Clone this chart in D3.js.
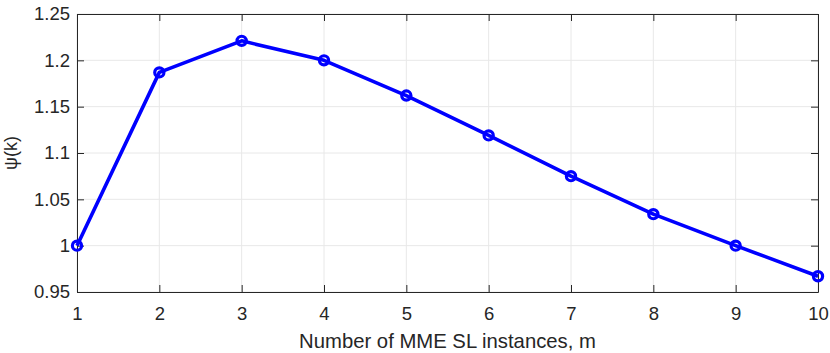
<!DOCTYPE html>
<html>
<head>
<meta charset="utf-8">
<script src="https://cdn.jsdelivr.net/npm/d3@7"></script>
<style>
  body { margin: 0; background: #fff; }
  text { font-family: "Liberation Sans", Arial, sans-serif; fill: #262626; }
</style>
</head>
<body>
<div id="chart"></div>
<script>
// data
const instances = [1, 2, 3, 4, 5, 6, 7, 8, 9, 10];
const psiValues = [1.0, 1.187, 1.221, 1.2, 1.162, 1.119, 1.075, 1.034, 1.0, 0.967];
const yTicks = [0.95, 1, 1.05, 1.1, 1.15, 1.2, 1.25];
const yTickLabels = ['0.95', '1', '1.05', '1.1', '1.15', '1.2', '1.25'];

const width = 830, height = 353;
const margin = {top: 14, right: 12, bottom: 61, left: 77};

const svg = d3.select('#chart').append('svg')
  .attr('width', width)
  .attr('height', height);

const x = d3.scaleLinear()
  .domain([1, 10])
  .range([margin.left, width - margin.right]);
const y = d3.scaleLinear()
  .domain([0.95, 1.25])
  .range([height - margin.bottom, margin.top]);

const axisColor = '#262626';
const tickLen = 7;

// grid lines
const grid = svg.append('g');
grid.selectAll('.vgrid').data(instances).enter().append('line')
  .attr('x1', d => x(d)).attr('x2', d => x(d))
  .attr('y1', y(0.95)).attr('y2', y(1.25))
  .attr('stroke', '#e8e8e8').attr('stroke-width', 1);
grid.selectAll('.hgrid').data(yTicks).enter().append('line')
  .attr('x1', x(1)).attr('x2', x(10))
  .attr('y1', d => y(d)).attr('y2', d => y(d))
  .attr('stroke', '#e8e8e8').attr('stroke-width', 1);

// axes (ticks inward, box on all sides)
const xAxis = g => g
  .attr('transform', `translate(0,${y(0.95)})`)
  .call(d3.axisBottom(x).tickValues(instances).tickFormat(d3.format('d'))
    .tickSizeInner(-tickLen).tickSizeOuter(0).tickPadding(15));
const xAxisTop = g => g
  .attr('transform', `translate(0,${y(1.25)})`)
  .call(d3.axisTop(x).tickValues(instances).tickFormat('')
    .tickSizeInner(-tickLen).tickSizeOuter(0));
const yAxis = g => g
  .attr('transform', `translate(${x(1)},0)`)
  .call(d3.axisLeft(y).tickValues(yTicks).tickFormat((d, i) => yTickLabels[i])
    .tickSizeInner(-tickLen).tickSizeOuter(0).tickPadding(7));
const yAxisRight = g => g
  .attr('transform', `translate(${x(10)},0)`)
  .call(d3.axisRight(y).tickValues(yTicks).tickFormat('')
    .tickSizeInner(-tickLen).tickSizeOuter(0));

[xAxis, xAxisTop, yAxis, yAxisRight].forEach(ax => {
  svg.append('g')
    .attr('color', axisColor)
    .style('font-size', '18.5px')
    .style('font-family', '"Liberation Sans", Arial, sans-serif')
    .call(ax)
    .call(g => g.selectAll('text').attr('fill', axisColor));
});

// line
const data = instances.map((m, i) => ({m, v: psiValues[i]}));
svg.append('path')
  .datum(data)
  .attr('fill', 'none')
  .attr('stroke', '#0000ff')
  .attr('stroke-width', 3.6)
  .attr('stroke-linejoin', 'round')
  .attr('d', d3.line().x(d => x(d.m)).y(d => y(d.v)));

// markers
svg.append('g').selectAll('circle').data(data).enter().append('circle')
  .attr('cx', d => x(d.m))
  .attr('cy', d => y(d.v))
  .attr('r', 4.6)
  .attr('fill', 'none')
  .attr('stroke', '#0000ff')
  .attr('stroke-width', 3.2);

// axis labels
svg.append('text')
  .attr('x', (x(1) + x(10)) / 2)
  .attr('y', 348)
  .attr('text-anchor', 'middle')
  .style('font-size', '20.3px')
  .text('Number of MME SL instances, m');

svg.append('text')
  .attr('transform', `translate(17,${(y(0.95) + y(1.25)) / 2}) rotate(-90)`)
  .attr('text-anchor', 'middle')
  .style('font-size', '18px')
  .text('ψ(k)');
</script>
</body>
</html>
